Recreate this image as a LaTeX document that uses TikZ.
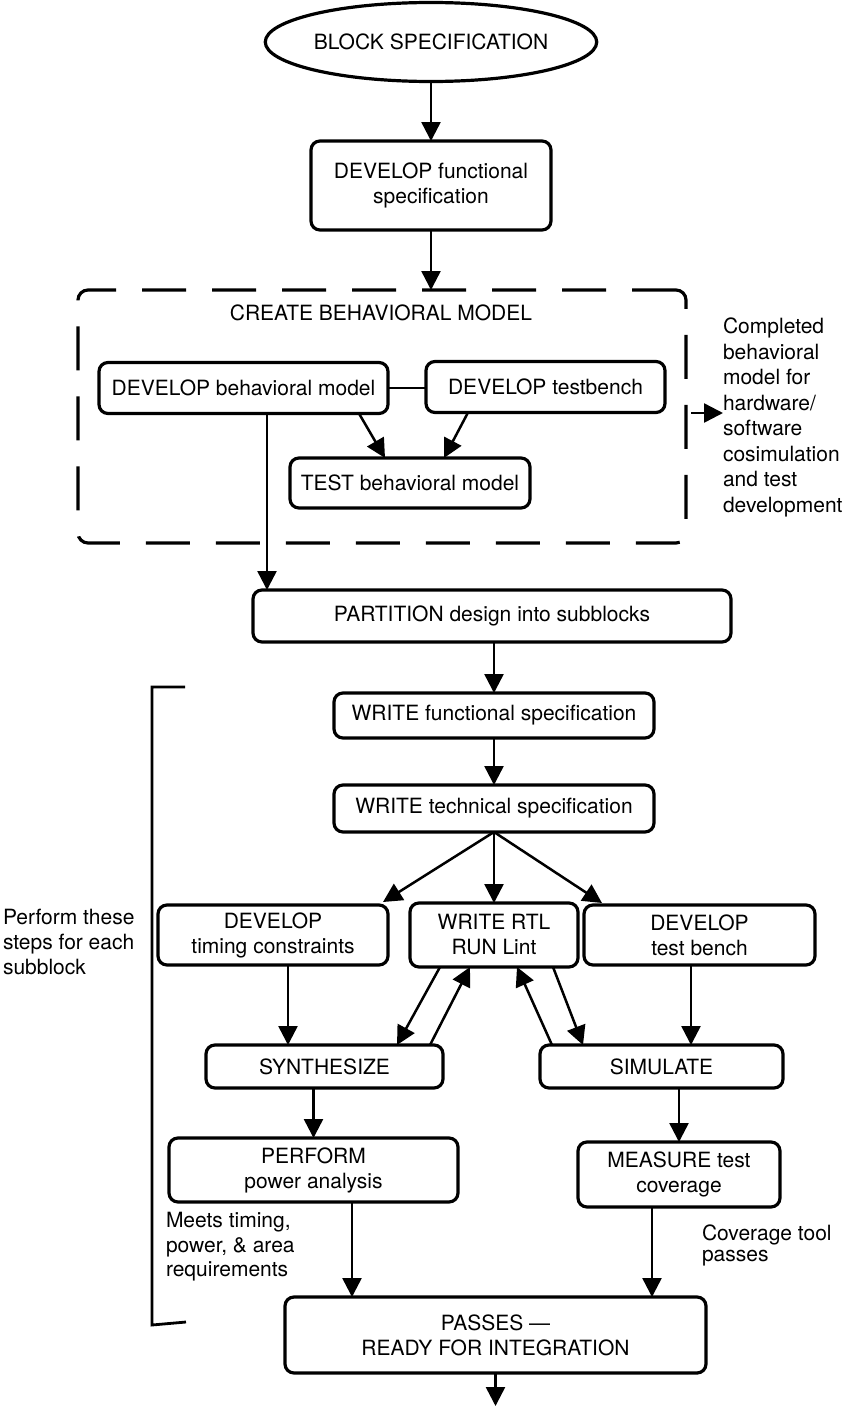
\documentclass[tikz,border=0pt]{standalone}
\usepackage{fontspec}
\setmainfont{TeX Gyre Heros}
\usetikzlibrary{arrows.meta,shapes.geometric}
\begin{document}
\begin{tikzpicture}[x=1pt,y=-1pt,
  every node/.style={font=\fontsize{21pt}{25pt}\selectfont, inner sep=0pt, outer sep=0pt},
  stepbox/.style={draw, line width=3.2pt, rounded corners=9pt, align=center},
  arr/.style={line width=2.5pt, -{Triangle[length=19pt,width=19pt]}},
  link/.style={line width=2.5pt},
  dashbox/.style={draw, line width=3.2pt, rounded corners=10pt, dash pattern=on 44pt off 26pt},
  note/.style={align=left},
]
\useasboundingbox (0,0) rectangle (847,1408);

% top of the flow
\node[draw, ellipse, line width=3.2pt, minimum width=278pt, minimum height=79pt] (spec) at (431,42) {BLOCK SPECIFICATION};
\node[stepbox, minimum width=240pt, minimum height=89pt] (devfunc) at (431,185.5) {DEVELOP functional\\specification};

% behavioral model group
\node[dashbox, minimum width=608pt, minimum height=253pt] (dbox) at (382,416.5) {};
\node (title) at (381,313) {CREATE BEHAVIORAL MODEL};
\node[stepbox, minimum width=289pt, minimum height=51pt] (devbeh) at (243.5,388) {DEVELOP behavioral model};
\node[stepbox, minimum width=239pt, minimum height=51pt] (devtb) at (545.5,387) {DEVELOP testbench};
\node[stepbox, minimum width=240pt, minimum height=50pt] (testbeh) at (410,483) {TEST behavioral model};
\node[note, anchor=west, font=\fontsize{21pt}{25.5pt}\selectfont] (completed) at (723,417.5) {Completed\\behavioral\\model for\\hardware/\\software\\cosimulation\\and test\\development};
\coordinate (cbout) at (691,413);

\node[stepbox, minimum width=478pt, minimum height=52pt] (partition) at (492,616) {PARTITION design into subblocks};

% per-subblock steps
\draw[line width=2.8pt] (185,687) -- (152,687) -- (152,1325) -- (186,1322);
\node[note, anchor=west] (perform) at (3,942) {Perform these\\steps for each\\subblock};

\node[stepbox, minimum width=320pt, minimum height=45pt] (wfunc) at (494,715.5) {WRITE functional specification};
\node[stepbox, minimum width=320pt, minimum height=47pt] (wtech) at (494,808.5) {WRITE technical specification};
\node[stepbox, minimum width=230pt, minimum height=60pt] (timing) at (273,935) {DEVELOP\\timing constraints};
\node[stepbox, minimum width=168pt, minimum height=64pt] (rtl) at (494,935) {WRITE RTL\\RUN Lint};
\node[stepbox, minimum width=231pt, minimum height=60pt] (tbench) at (699.5,935) {DEVELOP\\test bench};
\node[stepbox, minimum width=237pt, minimum height=43pt] (synth) at (324.5,1066.5) {SYNTHESIZE};
\node[stepbox, minimum width=243pt, minimum height=43pt] (simul) at (661.5,1066.5) {SIMULATE};
\node[stepbox, minimum width=289pt, minimum height=64pt] (power) at (313.5,1170) {PERFORM\\power analysis};
\node[stepbox, minimum width=202pt, minimum height=65pt] (measure) at (679,1174.5) {MEASURE test\\coverage};
\node[note, anchor=west, font=\fontsize{21pt}{24.5pt}\selectfont] (meets) at (166,1247) {Meets timing,\\power, \& area\\requirements};
\node[note, anchor=west, font=\fontsize{21pt}{21.5pt}\selectfont] (covpass) at (702,1245.5) {Coverage tool\\passes};
\node[stepbox, minimum width=421pt, minimum height=76pt] (passes) at (495.5,1335) {PASSES ---\\READY FOR INTEGRATION};

% connectors
\draw[arr] (spec.south) -- (devfunc.north);
\draw[arr] (devfunc.south) -- (devfunc.south |- dbox.north);
\draw[link] (devbeh.east) -- (devtb.west |- devbeh.east);
\draw[arr] ([xshift=115.5pt]devbeh.south) -- ([xshift=-25pt]testbeh.north);
\draw[arr] ([xshift=-77.5pt]devtb.south) -- ([xshift=34pt]testbeh.north);
\draw[arr] (cbout) -- (cbout -| completed.west);
\draw[arr] ([xshift=23.5pt]devbeh.south) -- ([xshift=-225pt]partition.north);
\draw[arr] (partition.south -| wfunc.north) -- (wfunc.north);
\draw[arr] (wfunc.south) -- (wtech.north);
\draw[arr] (wtech.south) -- ([xshift=110pt,yshift=3pt]timing.north);
\draw[arr] (wtech.south) -- (rtl.north);
\draw[arr] (wtech.south) -- ([xshift=-97.5pt,yshift=2pt]tbench.north);
\draw[arr] ([xshift=15pt]timing.south) -- ([xshift=-36.5pt]synth.north);
\draw[arr] ([xshift=-8.5pt]tbench.south) -- ([xshift=29.5pt]simul.north);
\draw[arr] ([xshift=-54pt]rtl.south) -- ([xshift=72.5pt]synth.north);
\draw[arr] ([xshift=105.5pt]synth.north) -- ([xshift=-24pt]rtl.south);
\draw[arr] ([xshift=-109.5pt]simul.north) -- ([xshift=23pt]rtl.south);
\draw[arr] ([xshift=59pt]rtl.south) -- ([xshift=-78.5pt]simul.north);
\draw[arr] (synth.south -| power.north) -- (power.north);
\draw[arr] (simul.south -| measure.north) -- (measure.north);
\draw[arr] ([xshift=38.5pt]power.south) -- ([xshift=-143.5pt]passes.north);
\draw[arr] ([xshift=-27pt]measure.south) -- ([xshift=156.5pt]passes.north);
\draw[arr] (passes.south) -- ++(0,33);
\end{tikzpicture}
\end{document}
